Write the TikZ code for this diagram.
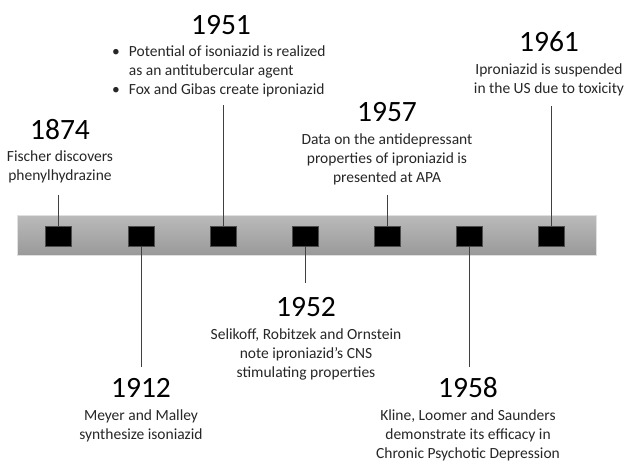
\documentclass[tikz,border=0pt]{standalone}
\usepackage{fontspec}
\setmainfont{Carlito}
\begin{document}
\begin{tikzpicture}[x=1pt,y=-1pt,
  year/.style={font=\fontsize{29.5}{32}\selectfont, inner sep=0pt, text=black},
  desc/.style={font=\fontsize{15.5}{19}\selectfont, align=center, inner sep=0pt, anchor=north, text=black!85},
  marker/.style={draw=black!70, fill=black, minimum width=26pt, minimum height=20pt, inner sep=0pt, line width=0.6pt},
  link/.style={draw=black!75, line width=1pt}]
\useasboundingbox (0,0) rectangle (626,462);
\node[draw=black!12, line width=0.8pt, top color=black!27, bottom color=black!40,
  minimum width=579pt, minimum height=40pt, inner sep=0pt] (bar) at (306.5,235.5) {};
% markers
\node[marker] (s1) at (58.7,236) {};
\node[marker] (s2) at (141.3,236) {};
\node[marker] (s3) at (223,236) {};
\node[marker] (s4) at (305,236) {};
\node[marker] (s5) at (387.3,236) {};
\node[marker] (s6) at (469.3,236) {};
\node[marker] (s7) at (551.3,236) {};
% 1874
\node[year] (y1) at (60,130) {1874};
\node[desc] (d1) at (60,151) {Fischer discovers\\phenylhydrazine};
% 1951
\node[year] (y3) at (221,25) {1951};
\node[font=\fontsize{15.5}{19}\selectfont, inner sep=0pt, anchor=north west, text=black!85] (d3) at (112,43.5)
  {\begin{tabular}{@{}l@{\hspace{9pt}}l@{}}
   •&Potential of isoniazid is realized\\
    &as an antitubercular agent\\
   •&Fox and Gibas create iproniazid
   \end{tabular}};
% 1957
\node[year] (y5) at (387,112) {1957};
\node[desc] (d5) at (387,134) {Data on the antidepressant\\properties of iproniazid is\\presented at APA};
% 1961
\node[year] (y7) at (549,42) {1961};
\node[desc] (d7) at (549,63.5) {Iproniazid is suspended\\in the US due to toxicity};
% 1912
\node[year] (y2) at (141,388) {1912};
\node[desc] (d2) at (141,409.5) {Meyer and Malley\\synthesize isoniazid};
% 1952
\node[year] (y4) at (306,307.5) {1952};
\node[desc] (d4) at (306,329) {Selikoff, Robitzek and Ornstein\\note iproniazid’s CNS\\stimulating properties};
% 1958
\node[year] (y6) at (468,388) {1958};
\node[desc] (d6) at (468,409.5) {Kline, Loomer and Saunders\\demonstrate its efficacy in\\Chronic Psychotic Depression};
% connector ends
\coordinate (e1) at (s1 |- 0,195);
\coordinate (e3) at (s3 |- 0,105);
\coordinate (e5) at (s5 |- 0,195);
\coordinate (e7) at (s7 |- 0,106);
\coordinate (e2) at (s2 |- 0,367);
\coordinate (e4) at (s4 |- 0,283);
\coordinate (e6) at (s6 |- 0,367);
\draw[link] (s1.north) -- (e1);
\draw[link] (s3.north) -- (e3);
\draw[link] (s5.north) -- (e5);
\draw[link] (s7.north) -- (e7);
\draw[link] (s2.south) -- (e2);
\draw[link] (s4.south) -- (e4);
\draw[link] (s6.south) -- (e6);
\end{tikzpicture}
\end{document}
